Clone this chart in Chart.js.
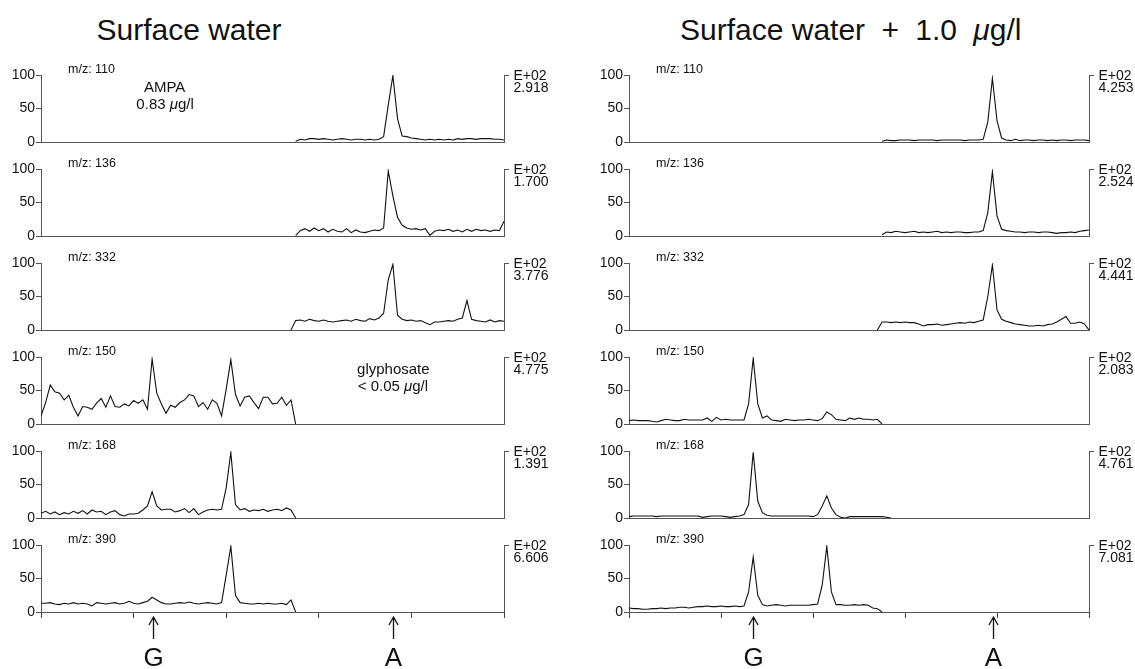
<!DOCTYPE html>
<html>
<head>
<meta charset="utf-8">
<script src="https://cdn.jsdelivr.net/npm/chart.js@4.4.1/dist/chart.umd.min.js"></script>
<style>
  body { margin: 0; background: #fff; }
  #page { position: relative; width: 1135px; height: 669px; overflow: hidden;
          font-family: "Liberation Sans", Arial, Helvetica, sans-serif; color: #111; }
  .title { position: absolute; top: 13px; font-size: 30px; line-height: 34px; white-space: nowrap; }
  canvas { position: absolute; }
</style>
</head>
<body>
<div id="page">
  <div class="title" style="left:189px; transform: translateX(-50%)">Surface water</div>
  <div class="title" style="left:680px">Surface water<span style="word-spacing: 8px"> + 1.0 <i>μ</i>g/l</span></div>
</div>
<script>
const FONT = '"Liberation Sans", Arial, Helvetica, sans-serif';

// x axis: retention position, 0..100, ticks every 20 (no labels in the figure)
const xTicks = [0, 20, 40, 60, 80, 100];
const ionLabels = ['m/z: 110', 'm/z: 136', 'm/z: 332', 'm/z: 150', 'm/z: 168', 'm/z: 390'];
const scaleSurface = ['2.918', '1.700', '3.776', '4.775', '1.391', '6.606'];
const scaleSpiked = ['4.253', '2.524', '4.441', '2.083', '4.761', '7.081'];

// G = glyphosate, A = AMPA retention marks
const markerNames = ['G', 'A'];
const markerSurface = [24.1, 76.0];
const markerSpiked = [26.9, 79.1];

// first x of each trace (one point per x unit after that)
const startSurface = [55, 55, 54, 0, 0, 0];
const startSpiked = [55, 55, 54, 0, 0, 0];

// Surface water
const sw110 = [1, 4, 3, 5, 5, 4, 5, 4, 3, 4, 5, 4, 3, 4, 4, 3, 4, 3, 4, 8, 55, 99, 35, 9, 8, 6, 5, 4, 3, 4, 3, 4, 3, 4, 3, 5, 4, 5, 5, 4, 5, 5, 5, 4, 4, 3];
const sw136 = [1, 8, 11, 7, 12, 8, 11, 6, 10, 7, 6, 11, 5, 9, 6, 5, 7, 9, 8, 12, 97, 60, 28, 16, 12, 10, 11, 9, 11, 1, 7, 9, 8, 10, 7, 9, 6, 10, 7, 10, 8, 9, 7, 9, 8, 22];
const sw332 = [0, 14, 15, 13, 16, 14, 13, 15, 13, 12, 13, 14, 15, 13, 16, 14, 13, 17, 15, 18, 25, 75, 98, 22, 16, 14, 15, 13, 14, 11, 8, 12, 12, 13, 14, 13, 16, 18, 44, 16, 14, 13, 12, 15, 12, 14, 13];
const sw150 = [12, 32, 58, 48, 46, 36, 43, 25, 12, 26, 25, 22, 31, 38, 25, 42, 26, 25, 30, 27, 35, 31, 36, 22, 97, 46, 30, 16, 28, 25, 32, 36, 44, 42, 26, 32, 22, 36, 31, 12, 52, 96, 44, 27, 40, 42, 32, 23, 40, 40, 30, 31, 40, 28, 36, 0];
const sw168 = [7, 10, 6, 9, 5, 8, 6, 10, 7, 11, 6, 12, 9, 10, 5, 9, 11, 5, 3, 6, 6, 7, 12, 18, 39, 18, 12, 13, 13, 9, 11, 14, 8, 14, 5, 9, 12, 13, 12, 13, 45, 98, 20, 12, 14, 10, 12, 11, 13, 10, 12, 13, 11, 15, 12, 0];
const sw390 = [13, 13, 14, 12, 11, 13, 12, 14, 12, 13, 12, 9, 14, 13, 12, 13, 14, 12, 13, 16, 13, 12, 14, 16, 22, 18, 14, 12, 12, 13, 14, 13, 15, 13, 12, 13, 14, 13, 12, 14, 55, 98, 25, 14, 13, 12, 12, 13, 12, 13, 12, 12, 13, 11, 18, 0];

// Surface water + 1.0 µg/l
const sp110 = [1, 3, 2, 2, 3, 3, 3, 2, 3, 3, 3, 3, 2, 3, 3, 3, 3, 3, 2, 3, 3, 3, 4, 30, 95, 32, 6, 3, 2, 4, 2, 3, 3, 2, 3, 3, 2, 3, 2, 3, 3, 2, 3, 3, 3, 2];
const sp136 = [2, 6, 5, 7, 6, 5, 6, 7, 5, 6, 5, 6, 7, 5, 6, 5, 6, 6, 5, 5, 6, 6, 8, 35, 96, 30, 10, 8, 7, 6, 6, 5, 6, 6, 5, 6, 6, 5, 4, 5, 5, 6, 5, 7, 8, 9];
const sp332 = [0, 12, 12, 11, 12, 11, 12, 11, 11, 9, 6, 8, 8, 9, 7, 8, 9, 10, 11, 10, 12, 11, 13, 15, 50, 97, 30, 16, 13, 11, 9, 8, 7, 6, 6, 7, 6, 8, 9, 12, 16, 20, 10, 10, 12, 9, 0];
const sp150 = [5, 6, 5, 5, 5, 4, 3, 5, 7, 6, 5, 5, 7, 6, 6, 6, 6, 9, 4, 10, 6, 7, 6, 6, 6, 6, 30, 98, 30, 9, 12, 6, 5, 4, 7, 6, 5, 6, 6, 7, 6, 5, 8, 18, 14, 7, 6, 5, 9, 7, 9, 7, 7, 6, 7, 0];
const sp168 = [2, 3, 3, 3, 3, 3, 2, 3, 3, 3, 3, 3, 3, 3, 3, 3, 1, 2, 3, 3, 3, 2, 1, 2, 3, 5, 20, 98, 25, 8, 4, 3, 3, 3, 3, 3, 3, 3, 3, 3, 2, 5, 18, 33, 15, 5, 1, 0, 2, 2, 2, 2, 2, 2, 2, 2, 1, 0];
const sp390 = [6, 5, 5, 4, 4, 5, 5, 6, 5, 6, 6, 7, 7, 6, 7, 8, 8, 9, 8, 8, 9, 8, 8, 9, 8, 9, 30, 82, 25, 11, 9, 10, 11, 10, 9, 10, 10, 10, 10, 10, 11, 12, 40, 98, 30, 11, 11, 10, 10, 11, 10, 11, 10, 6, 5, 0];

// text inside the panels: [x, y] in data units
const noteAmpa = ['AMPA', '0.83 μg/l'];
const noteAmpaPos = [[26.7, 81.5], [26.8, 55]];
const noteGly = ['glyphosate', '< 0.05 μg/l'];
const noteGlyPos = [[76.1, 80.5], [76, 55.5]];

const columns = [
  { left: 0, width: 580, axisL: 41, axisR: 76, traces: [sw110, sw136, sw332, sw150, sw168, sw390],
    starts: startSurface, scales: scaleSurface, markers: markerSurface,
    notes: { 0: [noteAmpa, noteAmpaPos], 3: [noteGly, noteGlyPos] } },
  { left: 580, width: 555, axisL: 49, axisR: 46, traces: [sp110, sp136, sp332, sp150, sp168, sp390],
    starts: startSpiked, scales: scaleSpiked, markers: markerSpiked, notes: {} }
];
const rowTops = [61, 155, 249, 343, 437, 531];

function drawRich(ctx, text, cx, cy, size) {
  const normal = size + 'px ' + FONT, italic = 'italic ' + size + 'px ' + FONT;
  const segs = [];
  text.split('μ').forEach((p, i) => {
    if (i > 0) segs.push({ t: 'μ', f: italic });
    if (p) segs.push({ t: p, f: normal });
  });
  let w = 0;
  segs.forEach(s => { ctx.font = s.f; s.w = ctx.measureText(s.t).width; w += s.w; });
  let xx = cx - w / 2;
  ctx.textAlign = 'left';
  segs.forEach(s => { ctx.font = s.f; ctx.fillText(s.t, xx, cy); xx += s.w; });
}

const panelText = {
  id: 'panelText',
  afterDraw(chart, args, o) {
    const { ctx, chartArea: a, scales: { x, y } } = chart;
    ctx.save();
    ctx.fillStyle = '#111';
    ctx.textBaseline = 'middle';
    ctx.textAlign = 'left';
    ctx.font = '12.5px ' + FONT;
    ctx.fillText(o.ion, a.left + 27, a.top - 5);
    ctx.font = '14px ' + FONT;
    ctx.fillText('E+02', a.right + 9.5, a.top + 1.5);
    ctx.fillText(o.scale, a.right + 9.5, a.top + 13.5);
    if (o.note) {
      o.note[0].forEach((t, i) => {
        const p = o.note[1][i];
        drawRich(ctx, t, x.getPixelForValue(p[0]), y.getPixelForValue(p[1]), 15);
      });
    }
    if (o.markers) {
      ctx.strokeStyle = '#111';
      ctx.lineWidth = 1.3;
      o.markers.forEach((m, i) => {
        const px = Math.round(x.getPixelForValue(m)) + 0.5;
        const top = a.bottom + 5;
        ctx.beginPath();
        ctx.moveTo(px, top + 22);
        ctx.lineTo(px, top);
        ctx.moveTo(px - 4.5, top + 8);
        ctx.lineTo(px, top);
        ctx.lineTo(px + 4.5, top + 8);
        ctx.stroke();
        ctx.font = '26px ' + FONT;
        ctx.textAlign = 'center';
        ctx.fillText(markerNames[i], px, a.bottom + 47);
      });
    }
    ctx.restore();
  }
};

const page = document.getElementById('page');

columns.forEach(col => {
  col.traces.forEach((vals, r) => {
    const last = r === col.traces.length - 1;
    const cv = document.createElement('canvas');
    cv.width = col.width;
    cv.height = last ? 138 : 94;
    cv.style.left = col.left + 'px';
    cv.style.top = rowTops[r] + 'px';
    page.appendChild(cv);

    const pts = vals.map((v, i) => ({ x: col.starts[r] + i, y: v }));

    new Chart(cv, {
      type: 'line',
      data: {
        datasets: [{
          data: pts,
          borderColor: '#111',
          borderWidth: 1.1,
          pointRadius: 0,
          tension: 0,
          fill: false
        }]
      },
      options: {
        responsive: false,
        animation: false,
        devicePixelRatio: 1,
        layout: { padding: { top: 14, bottom: last ? 0 : 13, left: 0, right: 0 } },
        plugins: {
          legend: { display: false },
          tooltip: { enabled: false },
          panelText: {
            ion: ionLabels[r],
            scale: col.scales[r],
            note: col.notes[r],
            markers: last ? col.markers : null
          }
        },
        scales: {
          x: {
            type: 'linear',
            min: xTicks[0],
            max: xTicks[xTicks.length - 1],
            afterBuildTicks: s => { s.ticks = xTicks.map(v => ({ value: v })); },
            ticks: { display: false },
            grid: { display: last, drawOnChartArea: false, drawTicks: true, tickLength: 6, color: '#444', lineWidth: 1 },
            border: { display: true, color: '#555', width: 1 },
            afterFit: s => { s.height = last ? 57 : 0; }
          },
          y: {
            position: 'left',
            min: 0,
            max: 100,
            ticks: { stepSize: 50, color: '#111', padding: 1, font: { family: FONT, size: 14 } },
            grid: { drawOnChartArea: false, drawTicks: true, tickLength: 5, color: '#555' },
            border: { display: true, color: '#555', width: 1 },
            afterFit: s => { s.width = col.axisL; }
          },
          y2: {
            position: 'right',
            min: 0,
            max: 100,
            afterBuildTicks: s => { s.ticks = [{ value: 100 }]; },
            ticks: { display: false },
            grid: { drawOnChartArea: false, drawTicks: true, tickLength: 5, color: '#555' },
            border: { display: true, color: '#555', width: 1 },
            afterFit: s => { s.width = col.axisR; }
          }
        }
      },
      plugins: [panelText]
    });
  });
});
</script>
</body>
</html>
